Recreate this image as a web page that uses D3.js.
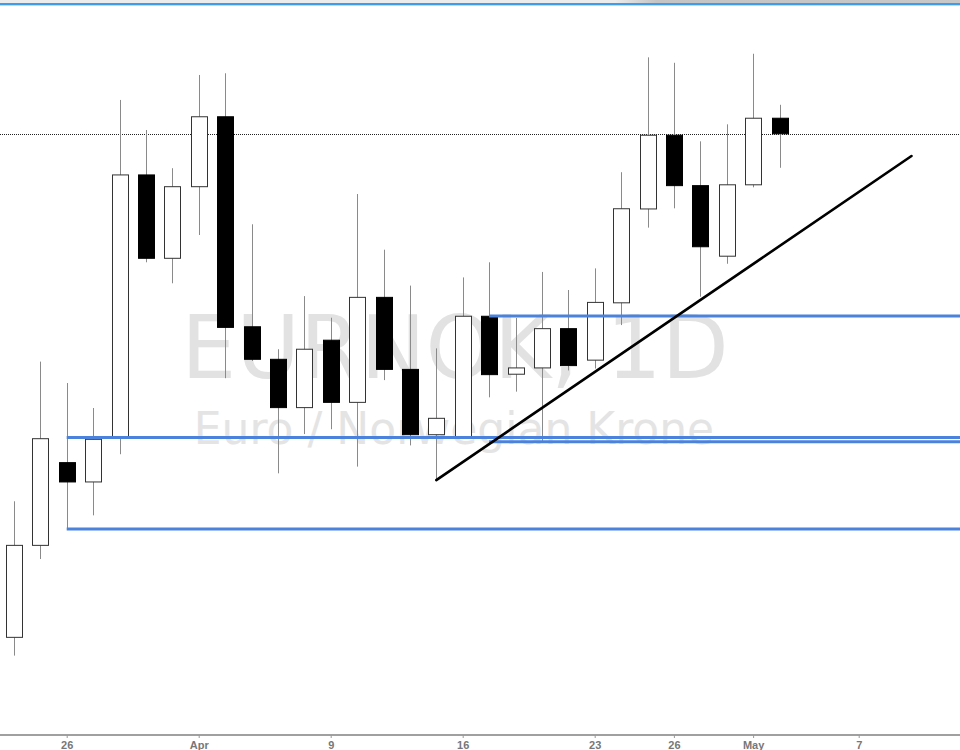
<!DOCTYPE html>
<html>
<head>
<meta charset="utf-8">
<script src="https://cdn.jsdelivr.net/npm/d3@7/dist/d3.min.js"></script>
<style>
html,body{margin:0;padding:0;background:#fff;overflow:hidden;}
svg{display:block;}
</style>
</head>
<body>
<svg id="chart" width="960" height="750"></svg>
<script>
// ---- data (EUR/NOK daily) ----
const dates = ["2018-03-22","2018-03-23","2018-03-26","2018-03-27","2018-03-28","2018-03-29","2018-03-30",
  "2018-04-02","2018-04-03","2018-04-04","2018-04-05","2018-04-06",
  "2018-04-09","2018-04-10","2018-04-11","2018-04-12","2018-04-13",
  "2018-04-16","2018-04-17","2018-04-18","2018-04-19","2018-04-20",
  "2018-04-23","2018-04-24","2018-04-25","2018-04-26","2018-04-27",
  "2018-04-30","2018-05-01","2018-05-02"];
const futureDates = ["2018-05-03","2018-05-04","2018-05-07","2018-05-08","2018-05-09"];
const open  = [9.4965,9.5403,9.5797,9.5705,9.5919,9.7167,9.6770,9.7111,9.7444,9.6444,9.6289,9.6059,9.6380,9.6084,9.6584,9.6241,9.5930,9.5920,9.6494,9.6218,9.6248,9.6435,9.6285,9.6558,9.7005,9.7356,9.7116,9.6780,9.7120,9.7437];
const high  = [9.5613,9.6278,9.6176,9.6057,9.7524,9.7381,9.7199,9.7643,9.7651,9.6932,9.6337,9.6590,9.6487,9.7076,9.6811,9.6640,9.6341,9.6679,9.6751,9.6486,9.6705,9.6619,9.6722,9.7180,9.7727,9.7701,9.7327,9.7408,9.7744,9.7501];
const low   = [9.4878,9.5338,9.5480,9.5546,9.5837,9.6751,9.6651,9.6881,9.6199,9.6281,9.5746,9.5933,9.5956,9.5778,9.6190,9.5879,9.5714,9.5914,9.6108,9.6135,9.5897,9.6236,9.6245,9.6452,9.6916,9.7008,9.6587,9.6744,9.7108,9.7201];
const close = [9.5403,9.5911,9.5705,9.5908,9.7167,9.6770,9.7111,9.7444,9.6441,9.6289,9.6059,9.6337,9.6084,9.6584,9.6241,9.5930,9.6008,9.6494,9.6216,9.6248,9.6435,9.6259,9.6560,9.7006,9.7356,9.7116,9.6825,9.7120,9.7437,9.7363];

// horizontal levels: [start date, price]
const levelStarts = ["2018-04-17","2018-03-26","2018-04-17","2018-03-26"];
const levelPrices = [9.6495, 9.5917, 9.5897, 9.5481];
// trend line
const trendDates  = ["2018-04-13","2018-05-09"];
const trendPrices = [9.5714, 9.7257];

const tickDates  = ["2018-03-26","2018-04-02","2018-04-09","2018-04-16","2018-04-23","2018-04-26","2018-05-01","2018-05-07"];
const tickLabels = ["26","Apr","9","16","23","26","May","7"];

const symbolText = "EURNOK, 1D";
const descText = "Euro / Norwegian Krone";

// ---- layout ----
const W = 960, H = 750;
const axisY = 735;
const allDates = dates.concat(futureDates);
const idx = d => allDates.indexOf(d);

const x = d3.scaleLinear().domain([0, 32]).range([13.9, 858.7]);
const y = d3.scaleLinear().domain([9.45, 9.80]).range([axisY, 0]);

const svg = d3.select("#chart");

// top toolbar strip
svg.append("rect").attr("x",0).attr("y",0).attr("width",W).attr("height",3).attr("fill","#ececec");
const grad = svg.append("defs").append("linearGradient").attr("id","shade").attr("x1","0").attr("x2","1");
grad.append("stop").attr("offset","0").attr("stop-color","#ececec");
grad.append("stop").attr("offset","0.12").attr("stop-color","#c4c4c4");
grad.append("stop").attr("offset","1").attr("stop-color","#c8c8c8");
svg.append("rect").attr("x",615).attr("y",0).attr("width",W-615).attr("height",3).attr("fill","url(#shade)");
svg.append("rect").attr("x",0).attr("y",3).attr("width",W).attr("height",2).attr("fill","#3f9ce8");
svg.append("rect").attr("x",0).attr("y",5).attr("width",W).attr("height",1).attr("fill","#bcdcf6");

// watermark
svg.append("text").attr("x",455).attr("y",378)
  .attr("text-anchor","middle")
  .attr("font-family","DejaVu Sans, sans-serif")
  .attr("font-size",87).attr("fill","#e2e2e2")
  .text(symbolText);
svg.append("text").attr("x",454).attr("y",444)
  .attr("text-anchor","middle")
  .attr("font-family","DejaVu Sans, sans-serif")
  .attr("font-size",44).attr("fill","#e4e4e4")
  .text(descText);

// last price dotted line
svg.append("line")
  .attr("x1",0).attr("x2",W)
  .attr("y1",Math.round(y(close[close.length-1]))+0.5)
  .attr("y2",Math.round(y(close[close.length-1]))+0.5)
  .attr("stroke","#222").attr("stroke-width",1).attr("stroke-dasharray","1,1");

// candles
const candles = dates.map((d,i)=>({i, o:open[i], h:high[i], l:low[i], c:close[i]}));
const g = svg.append("g");
g.selectAll("line.wick").data(candles).join("line")
  .attr("class","wick")
  .attr("x1",d=>Math.round(x(d.i))+0.5).attr("x2",d=>Math.round(x(d.i))+0.5)
  .attr("y1",d=>y(d.h)).attr("y2",d=>y(d.l))
  .attr("stroke","#8a8a8a").attr("stroke-width",1);
const bw = 16;
g.selectAll("rect.body").data(candles).join("rect")
  .attr("class","body")
  .attr("x",d=>Math.round(x(d.i)) - bw/2 + 0.5)
  .attr("width",bw)
  .attr("y",d=>y(Math.max(d.o,d.c)))
  .attr("height",d=>Math.max(1, y(Math.min(d.o,d.c)) - y(Math.max(d.o,d.c))))
  .attr("fill",d=>d.c>=d.o ? "#fff" : "#000")
  .attr("stroke",d=>d.c>=d.o ? "#333" : "#000")
  .attr("stroke-width",1);

// horizontal levels
levelPrices.forEach((p,k)=>{
  svg.append("line")
    .attr("x1",x(idx(levelStarts[k]))).attr("x2",W)
    .attr("y1",y(p)).attr("y2",y(p))
    .attr("stroke","#4b82db").attr("stroke-width",3);
});

// trend line
svg.append("line")
  .attr("x1",x(idx(trendDates[0]))).attr("y1",y(trendPrices[0]))
  .attr("x2",x(idx(trendDates[1]))).attr("y2",y(trendPrices[1]))
  .attr("stroke","#000").attr("stroke-width",2.6).attr("stroke-linecap","round");

// x axis
const axis = d3.axisBottom(x)
  .tickValues(tickDates.map(idx))
  .tickFormat((v,k)=>tickLabels[k])
  .tickSize(3).tickPadding(3);
const ax = svg.append("g").attr("transform",`translate(0,${axisY})`).call(axis);
ax.select(".domain").remove();
ax.insert("line",":first-child").attr("x1",0).attr("x2",W).attr("y1",0).attr("y2",0)
  .attr("stroke","#a0a0a0").attr("stroke-width",2);
ax.selectAll(".tick line").attr("stroke","#999");
ax.selectAll(".tick text")
  .attr("font-family","Liberation Sans Narrow, Liberation Sans, sans-serif")
  .attr("font-weight","bold")
  .attr("font-size",11).attr("fill","#777");
</script>
</body>
</html>
